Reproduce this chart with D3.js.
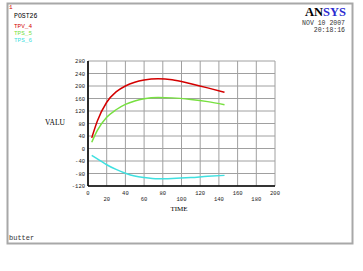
<!DOCTYPE html>
<html>
<head>
<meta charset="utf-8">
<script src="https://cdn.jsdelivr.net/npm/d3@7"></script>
<style>
  body { margin: 0; background: #fff; }
  text { font-family: "Liberation Mono", "DejaVu Sans Mono", monospace; }
</style>
</head>
<body>
<div class="post26"></div>
<script>
// values
var timeValues = [4, 10, 20, 30, 40, 50, 60, 75, 90, 110, 128, 146];
var tpv4 = [34, 88, 148, 181, 200, 212, 219, 223, 220, 207, 194, 180];
var tps5 = [20, 58, 100, 124, 141, 152, 159, 163, 162, 157, 150, 140];
var tps6 = [-22, -33, -52, -67, -79, -88, -93, -97, -96, -93, -89, -86];
var seriesNames = ["TPV_4", "TPS_5", "TPS_6"];
var seriesColors = ["#d40000", "#77e040", "#40e0e0"];
var xTicks = [0, 20, 40, 60, 80, 100, 120, 140, 160, 180, 200];
var yTicks = [-120, -80, -40, 0, 40, 80, 120, 160, 200, 240, 280];

var svg = d3.select(".post26").append("svg").attr("width", 363).attr("height", 271),
    margin = {top: 61, left: 88},
    width  = 187,
    height = 125,
    x = d3.scaleLinear().domain([0, 200]).range([0, width]),
    y = d3.scaleLinear().domain([-120, 280]).range([height, 0]),
    g = svg.append("g").attr("transform", `translate(${margin.left},${margin.top})`);

// outer frame
svg.append("rect")
    .attr("x", 7.5).attr("y", 3.5).attr("width", 345).attr("height", 240)
    .attr("fill", "none").attr("stroke", "#a8a8a8").attr("stroke-width", 2);

// grid
g.selectAll(".vgrid").data(xTicks).enter().append("line")
    .attr("class", "vgrid")
    .attr("x1", d => x(d)).attr("x2", d => x(d))
    .attr("y1", 0).attr("y2", height)
    .attr("stroke", "#a0a0a0").attr("stroke-width", 1);
g.selectAll(".hgrid").data(yTicks).enter().append("line")
    .attr("class", "hgrid")
    .attr("x1", 0).attr("x2", width)
    .attr("y1", d => y(d)).attr("y2", d => y(d))
    .attr("stroke", "#a0a0a0").attr("stroke-width", 1);

// axes (left and bottom are heavier)
g.append("line").attr("x1", 0).attr("x2", 0).attr("y1", 0).attr("y2", height)
    .attr("stroke", "#000").attr("stroke-width", 1.6);
g.append("line").attr("x1", 0).attr("x2", width).attr("y1", height).attr("y2", height)
    .attr("stroke", "#000").attr("stroke-width", 1.6);

// y tick labels
g.selectAll(".ylab").data(yTicks).enter().append("text")
    .attr("class", "ylab")
    .attr("x", -3).attr("y", d => y(d) + 2)
    .attr("text-anchor", "end")
    .style("font-size", "5.5px").attr("fill", "#222")
    .text(d => d);

// x tick labels, staggered
g.selectAll(".xlab").data(xTicks).enter().append("text")
    .attr("class", "xlab")
    .attr("x", d => x(d)).attr("y", (d, i) => height + (i % 2 ? 15 : 9))
    .attr("text-anchor", "middle")
    .style("font-size", "5.5px").attr("fill", "#222")
    .text(d => d);

svg.append("text").attr("x", 179).attr("y", 211).attr("text-anchor", "middle")
    .style("font-size", "7px").style("font-family", "Liberation Serif").text("TIME");
svg.append("text").attr("x", 55).attr("y", 125).attr("text-anchor", "middle")
    .style("font-size", "7.5px").style("font-family", "Liberation Serif").text("VALU");

// curves
var line = d3.line()
    .x((d, i) => x(timeValues[i]))
    .y(d => y(d))
    .curve(d3.curveMonotoneX);

[tpv4, tps5, tps6].forEach((vals, k) => {
  g.append("path")
      .attr("d", line(vals))
      .attr("fill", "none")
      .attr("stroke", seriesColors[k])
      .attr("stroke-width", 1.5);
});

// top left labels
svg.append("text").attr("x", 9).attr("y", 9).style("font-size", "6px")
    .attr("fill", "#d40000").text("1");
svg.append("text").attr("x", 14).attr("y", 18).style("font-size", "6.5px").text("POST26");
svg.selectAll(".leg").data(seriesNames).enter().append("text")
    .attr("class", "leg")
    .attr("x", 14).attr("y", (d, i) => 28 + i * 7)
    .style("font-size", "6px")
    .attr("fill", (d, i) => seriesColors[i])
    .text(d => d);

// ANSYS logo and date
var logo = svg.append("text").attr("x", 346).attr("y", 16).attr("text-anchor", "end")
    .style("font-family", "Liberation Serif").style("font-size", "12.5px").style("font-weight", "bold");
logo.append("tspan").attr("fill", "#000").text("AN");
logo.append("tspan").attr("fill", "#2a2ad0").text("SYS");
svg.append("text").attr("x", 345).attr("y", 25).attr("text-anchor", "end")
    .style("font-size", "6.5px").attr("fill", "#333").text("NOV 10 2007");
svg.append("text").attr("x", 345).attr("y", 32).attr("text-anchor", "end")
    .style("font-size", "6.5px").attr("fill", "#333").text("20:18:16");

svg.append("text").attr("x", 9).attr("y", 240).style("font-size", "7px")
    .attr("fill", "#333").text("butter");
</script>
</body>
</html>
